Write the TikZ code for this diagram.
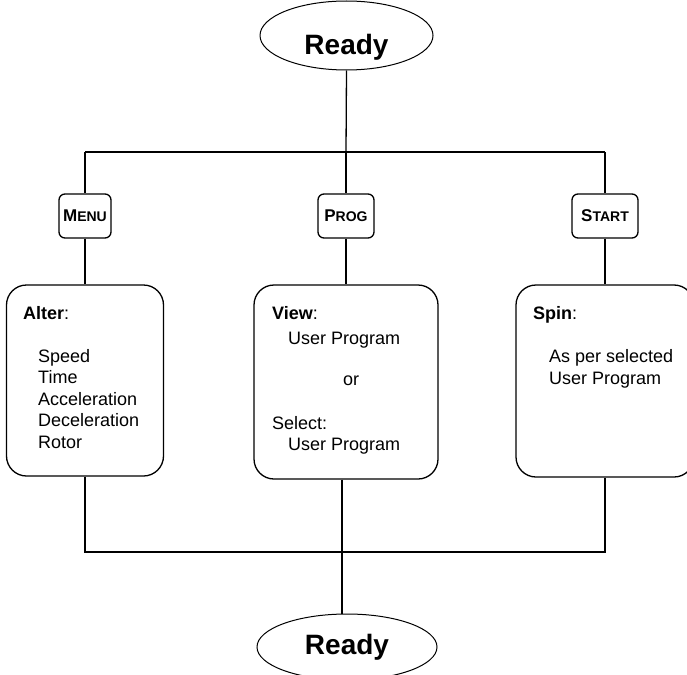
\documentclass[tikz,border=0pt]{standalone}
\usepackage{fontspec}
\setmainfont{Liberation Sans}
\usetikzlibrary{shapes.geometric}
\newcommand\myscaps[2]{\bfseries{\fontsize{17}{17}\selectfont #1}{\fontsize{14}{14}\selectfont #2}}
\tikzset{
  line/.style={line width=1.3pt},
  keybox/.style={draw, line width=1.3pt, rounded corners=6pt, minimum height=44pt, inner sep=0pt},
  bigbox/.style={draw, line width=1.3pt, rounded corners=20pt, inner sep=0pt},
  readyell/.style={draw, ellipse, line width=1pt, inner sep=0pt, font=\fontsize{28}{28}\selectfont\bfseries},
  bodytext/.style={anchor=base west, align=left, inner sep=0pt, font=\fontsize{18}{21.5}\selectfont},
}
\begin{document}
\begin{tikzpicture}[x=1pt,y=-1pt]
\clip (0,0) rectangle (687,674);
% ellipses
\node[readyell, minimum width=173pt, minimum height=69pt, text height=40pt, text depth=1pt] (top) at (346.5,35.5) {Ready};
\node[readyell, minimum width=180pt, minimum height=66pt, text height=20pt, text depth=6pt] (bot) at (347,647) {Ready};
% key boxes
\node[keybox, minimum width=52pt] (menu) at (85,216) {\myscaps{M}{ENU}};
\node[keybox, minimum width=56pt] (prog) at (346,216) {\myscaps{P}{ROG}};
\node[keybox, minimum width=66pt] (start) at (605,216) {\myscaps{S}{TART}};
% big boxes
\node[bigbox, minimum width=157pt, minimum height=191pt] (alter) at (85,380.5) {};
\node[bigbox, minimum width=184pt, minimum height=194pt] (view) at (346,382) {};
\node[bigbox, minimum width=178pt, minimum height=192pt] (spin) at (605,381) {};
% texts (anchored at the baseline of the last line)
\node[bodytext] (altertext) at (23,448) {\textbf{Alter}:\\[21.5pt]\hspace*{15pt}Speed\\\hspace*{15pt}Time\\\hspace*{15pt}Acceleration\\\hspace*{15pt}Deceleration\\\hspace*{15pt}Rotor};
\node[bodytext] (viewtext) at (272,450.5) {\textbf{View}:\\[3.5pt]\hspace*{16pt}User Program\\[19.5pt]\hspace*{71pt}or\\[22.5pt]Select:\\\hspace*{16pt}User Program};
\node[bodytext] (spintext) at (533,384) {\textbf{Spin}:\\[21.5pt]\hspace*{16pt}As per selected\\\hspace*{16pt}User Program};
% bus coordinates
\coordinate (tj) at (346,152);
\coordinate (tl) at (85,152);
\coordinate (tr) at (605,152);
\coordinate (bl) at (85,552);
\coordinate (br) at (605,552);
\coordinate (bj) at (342,552);
% connectors
\draw[line] (top.south) -- (tj);
\draw[line] (tl) -- (tr);
\draw[line] (tl) -- (menu.north);
\draw[line] (tj) -- (prog.north);
\draw[line] (tr) -- (start.north);
\draw[line] (menu.south) -- (alter.north);
\draw[line] (prog.south) -- (view.north);
\draw[line] (start.south) -- (spin.north);
\draw[line] (alter.south) -- (bl) -- (br) -- (spin.south);
\draw[line] (view.south -| bj) -- (bj) -- (bot.north -| bj);
\end{tikzpicture}
\end{document}
